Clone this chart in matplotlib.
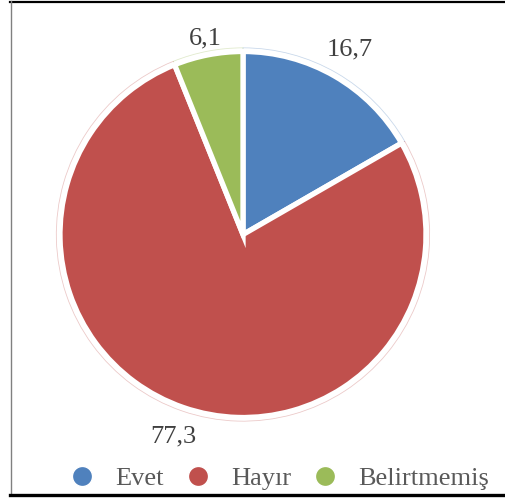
import matplotlib
matplotlib.use("Agg")
import matplotlib.pyplot as plt
from matplotlib.lines import Line2D
import numpy as np

categories = ["Evet", "Hayır", "Belirtmemiş"]
values = [16.7, 77.3, 6.1]
value_labels = ["16,7", "77,3", "6,1"]
colors = ["#4F81BD", "#C0504D", "#9BBB59"]
label_dist = [1.17, 1.17, 1.09]

plt.rcParams['font.family'] = ['Liberation Serif', 'DejaVu Serif']

W, H = 505, 499
fig = plt.figure(figsize=(W / 100, H / 100), dpi=100)
fig.patch.set_facecolor("white")

cx, cy, R = 243, 234.5, 183
ax = fig.add_axes([(cx - R) / W, (H - cy - R) / H, 2 * R / W, 2 * R / H])
# faint outer glow outline
ax.pie(values, colors=["none"] * 3, startangle=90, counterclock=False, radius=1.02,
       wedgeprops=dict(edgecolor="none", linewidth=0))
outer, _ = ax.pie(values, colors=colors, startangle=90, counterclock=False, radius=1.02,
                  wedgeprops=dict(linewidth=0))
for w, c in zip(outer, colors):
    w.set_facecolor("none")
    w.set_edgecolor(c)
    w.set_alpha(0.3)
    w.set_linewidth(0.6)
wedges, _ = ax.pie(values, colors=colors, startangle=90, counterclock=False,
                   wedgeprops=dict(edgecolor="white", linewidth=3.8))
ax.set_xlim(-1, 1)
ax.set_ylim(-1, 1)
ax.set_aspect("equal")
ax.axis("off")

for w, lab, d in zip(wedges, value_labels, label_dist):
    ang = np.deg2rad((w.theta1 + w.theta2) / 2)
    ax.text(d * np.cos(ang), d * np.sin(ang), lab, ha="center", va="center",
            fontsize=19, color="#404040", clip_on=False)

handles = [Line2D([], [], marker="o", linestyle="none", markersize=14.5,
                  markerfacecolor=c, markeredgecolor="white", markeredgewidth=1)
           for c in colors]
fig.legend(handles, categories, ncol=3, loc="center",
           bbox_to_anchor=(279 / W, 1 - 478 / H), frameon=False,
           fontsize=19, labelcolor="#595959", handlelength=1.0,
           handletextpad=0.75, columnspacing=0.8, borderpad=0)

# frame lines
fig.add_artist(Line2D([10 / W, 1], [1 - 1.5 / H, 1 - 1.5 / H], color="black", lw=1.6))
fig.add_artist(Line2D([10.5 / W, 10.5 / W], [1 - 1 / H, 1 - 494 / H], color="#808080", lw=1.0))
fig.add_artist(Line2D([10 / W, 1], [1 - 494.5 / H, 1 - 494.5 / H], color="black", lw=2.4))

fig.savefig("out.png", dpi=100, facecolor="white")
